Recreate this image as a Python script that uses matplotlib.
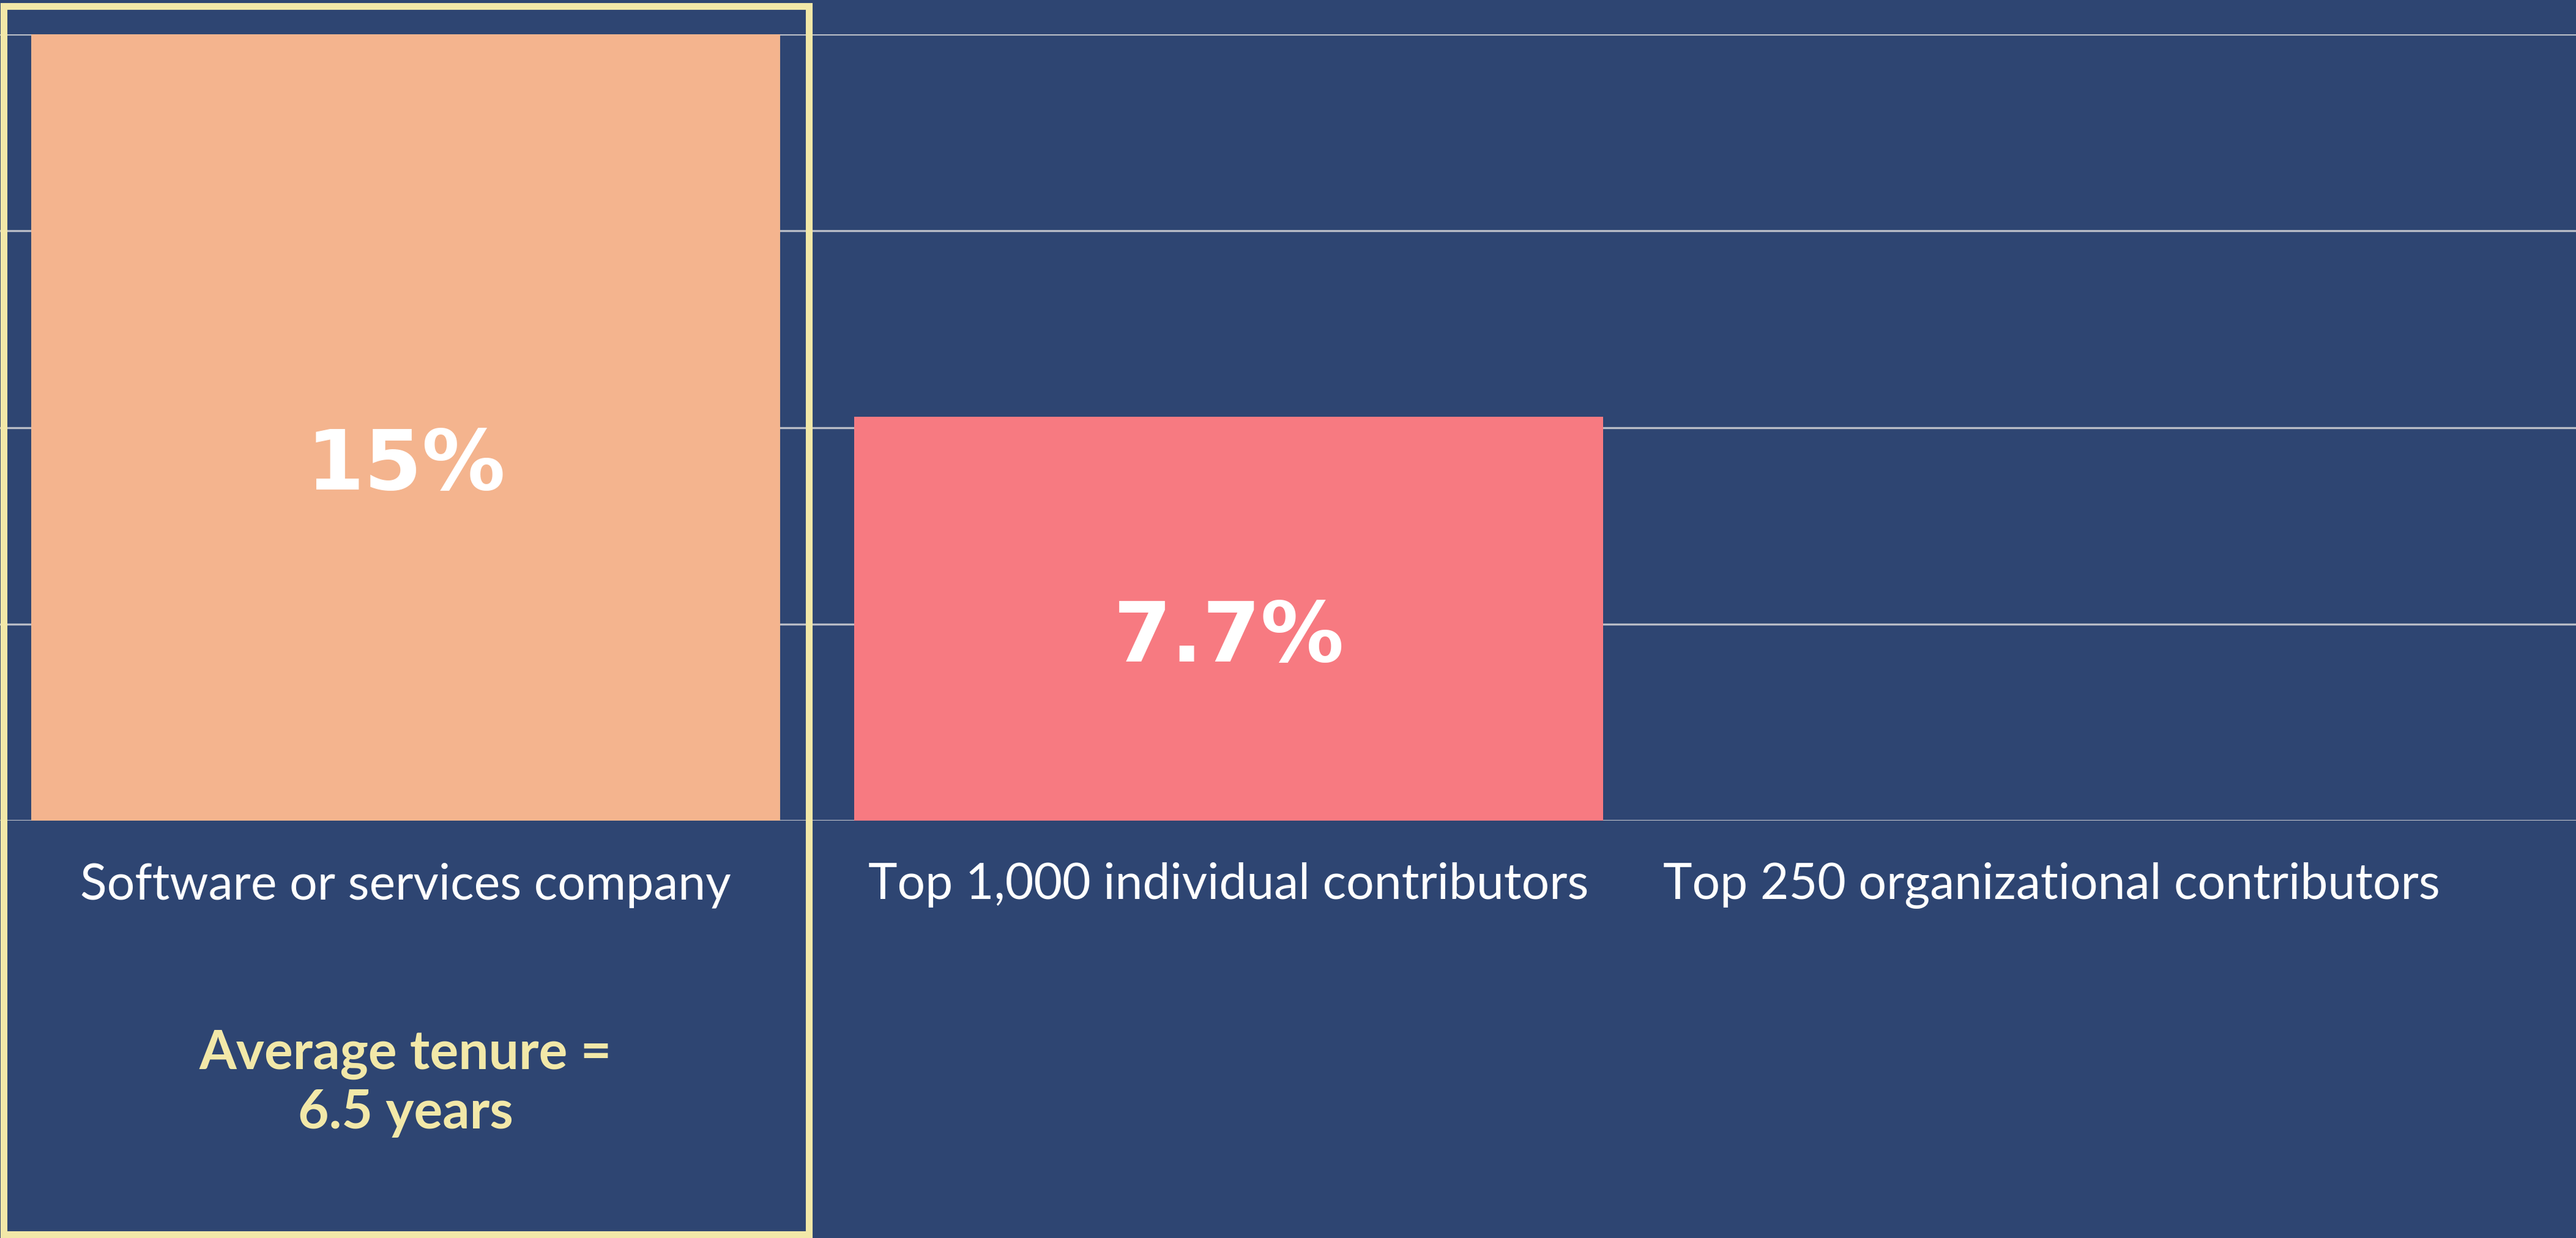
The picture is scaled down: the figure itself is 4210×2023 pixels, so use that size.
import matplotlib
matplotlib.use("Agg")
import matplotlib.pyplot as plt
from matplotlib.patches import Rectangle
from matplotlib.transforms import blended_transform_factory

categories = ["Software or services company", "Top 1,000 individual contributors", "Top 250 organizational contributors"]
values = [15.0, 7.7, 0.0]
value_labels = ["15%", "7.7%", ""]
bar_colors = ["#F4B48E", "#F77A81", "#F77A81"]
annotation = "Average tenure =\n6.5 years"

BG = "#2E4572"
YELLOW = "#F2E8A8"
GRID = "#B8BCC6"

fig = plt.figure(figsize=(42.10, 20.23), dpi=100, facecolor=BG)
ax = fig.add_axes([0.0, 1 - 499/753, 1.0, (499 - 21)/753])
ax.set_facecolor(BG)

x = list(range(len(categories)))
ax.bar(x, values, width=0.91, color=bar_colors, zorder=3)
ax.set_xlim(-0.493, 2.637)
ax.set_ylim(0, 15)
ax.set_yticks([0, 3.75, 7.5, 11.25, 15])
ax.yaxis.grid(True, color=GRID, linewidth=2.4, zorder=0)
ax.tick_params(axis='y', left=False, labelleft=False)
ax.tick_params(axis='x', bottom=False, pad=46, labelsize=58, labelcolor="white")
ax.set_xticks(x)
ax.set_xticklabels(categories, fontfamily="Lato")
for s in ax.spines.values():
    s.set_visible(False)

for xi, v, lab in zip(x, values, value_labels):
    if lab:
        ax.text(xi, v * 0.45, lab, ha='center', va='center', color='white',
                fontsize=98, fontweight='heavy', fontfamily='DejaVu Sans', zorder=4)

trans = blended_transform_factory(ax.transData, ax.transAxes)
ax.text(x[0], -0.335, annotation, transform=trans, ha='center', va='center',
        color=YELLOW, fontsize=63, fontweight='bold', fontfamily='Lato',
        linespacing=1.22)

# highlight frame around the first category
frame = Rectangle((0.0015, 0.003), 0.3125, 0.992, transform=fig.transFigure,
                  fill=False, edgecolor=YELLOW, linewidth=8, zorder=10)
fig.patches.append(frame)

fig.savefig("out.png", dpi=100, facecolor=BG)
